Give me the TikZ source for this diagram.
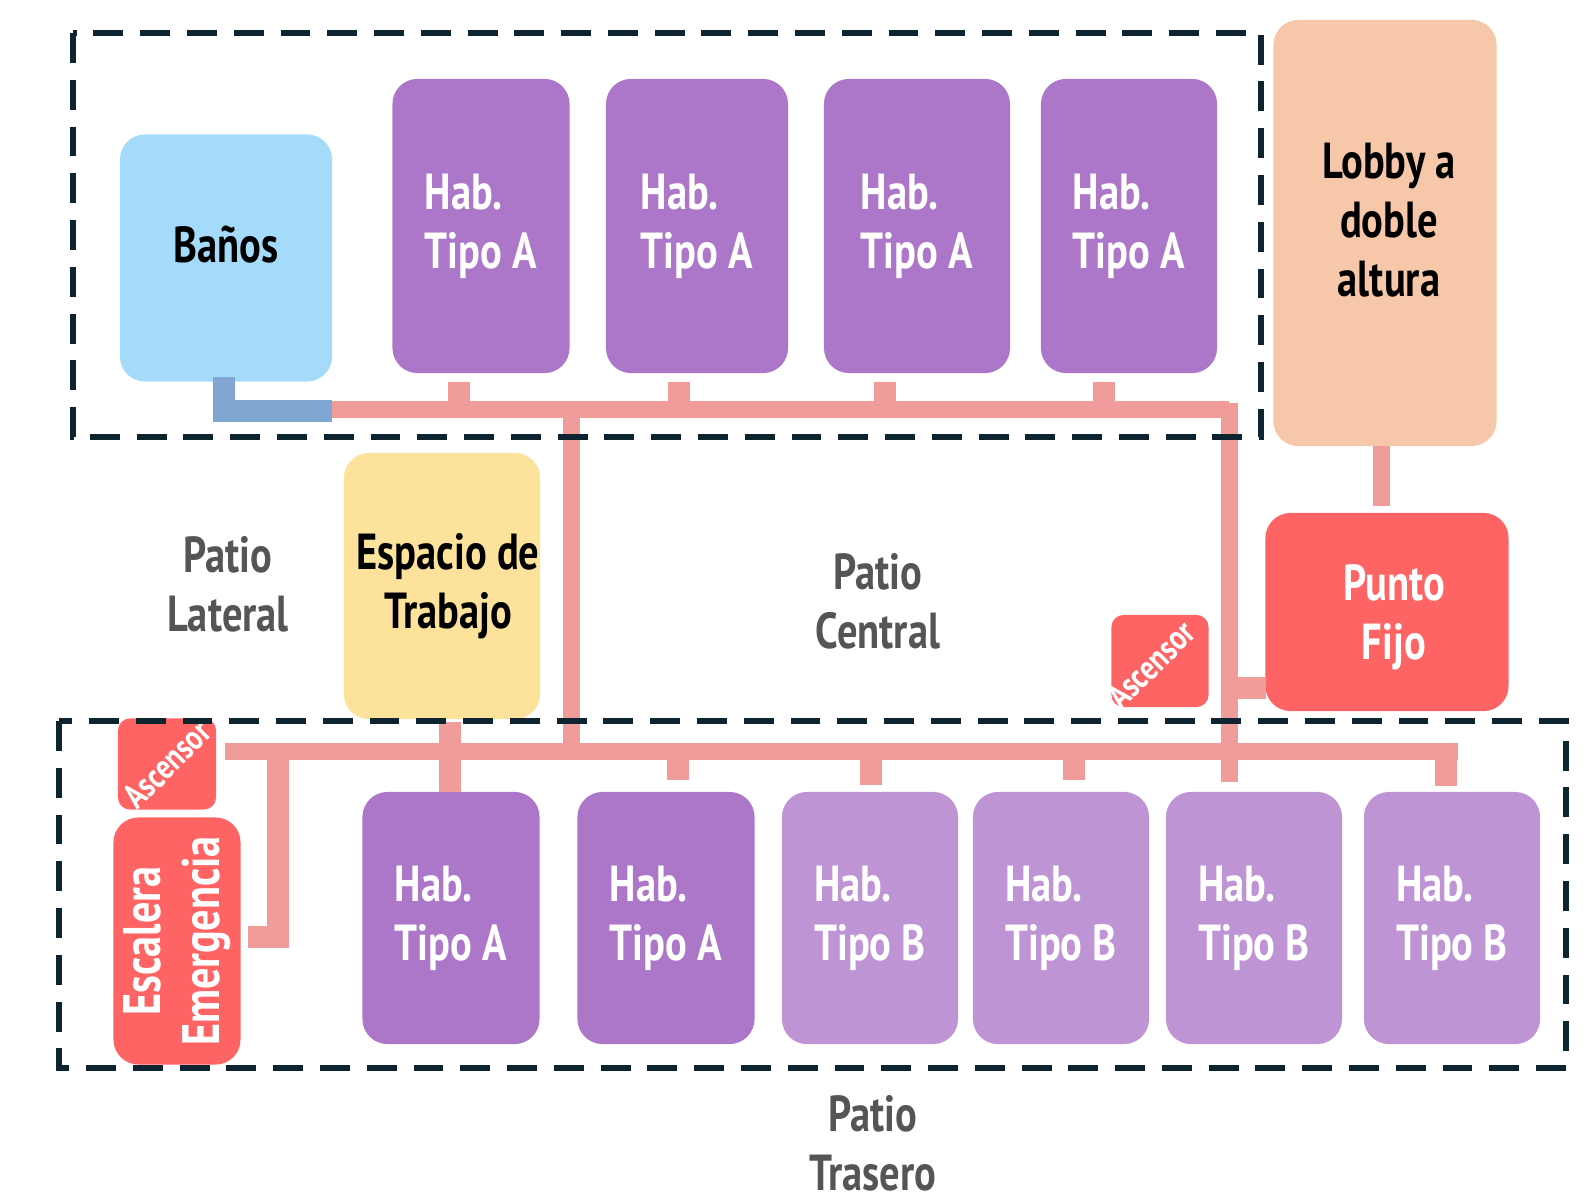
\documentclass[tikz,border=0pt]{standalone}
\usepackage{fontspec}
\setmainfont{PT Sans}[FakeStretch=0.8]

\definecolor{moradoA}{HTML}{AD77C9}
\definecolor{moradoB}{HTML}{BF94D5}
\definecolor{celeste}{HTML}{A4DBFA}
\definecolor{durazno}{HTML}{F6C7A8}
\definecolor{rojo}{HTML}{FE6463}
\definecolor{amarillo}{HTML}{FCE29A}
\definecolor{rosa}{HTML}{EF9C9B}
\definecolor{azulL}{HTML}{80A6D2}
\definecolor{marino}{HTML}{0E2431}
\definecolor{gris}{HTML}{555555}

\newcommand{\rotulo}{\fontsize{14.4}{16.7}\selectfont\bfseries}

\tikzset{
  cuarto/.style={rounded corners=0.25cm, inner sep=0pt, font=\rotulo, text=white, align=left},
  habA/.style={cuarto, fill=moradoA},
  habB/.style={cuarto, fill=moradoB},
  fijo/.style={cuarto, fill=rojo, align=center},
  ascensor/.style={fill=rojo, rounded corners=0.12cm, minimum width=0.97cm, minimum height=0.92cm},
  rotulo/.style={font=\rotulo, align=center},
  patio/.style={font=\rotulo, text=gris, align=center},
  corredor/.style={draw=rosa, line width=0.17cm},
  ramal/.style={draw=rosa, line width=0.22cm},
  limite/.style={draw=marino, line width=1.7pt, dash pattern=on 8.5pt off 4.8pt}
}

\begin{document}
\begin{tikzpicture}[x=0.01cm,y=-0.01cm]
  \useasboundingbox (0,0) rectangle (1588,1203);

  % patios
  \node[patio] (lateral) at (228,584) {Patio\\Lateral};
  \node[patio] (central) at (878,601) {Patio\\Central};
  \node[patio] (trasero) at (873,1143) {Patio\\Trasero};

  % bloque superior
  \node[cuarto, fill=celeste, minimum width=2.12cm, minimum height=2.47cm,
    label={[rotulo, text=black, yshift=0.13cm]center:Baños}] (banos) at (226,258) {};
  \foreach \x/\w/\n in {481/1.77/1,697/1.82/2,917/1.86/3,1129/1.76/4}
    \node[habA, minimum width=\w cm, minimum height=2.94cm] (sup\n) at (\x,226) {Hab.\\Tipo A};
  \node[cuarto, fill=durazno, minimum width=2.23cm, minimum height=4.26cm,
    label={[rotulo, text=black, yshift=0.13cm, xshift=0.04cm]center:Lobby a\\doble\\altura}] (lobby) at (1385,233) {};
  \node[fijo, minimum width=2.43cm, minimum height=1.98cm,
    label={[rotulo, text=white, yshift=-0.05cm, xshift=0.07cm]center:Punto\\Fijo}] (punto) at (1387,612) {};
  \node[ascensor, label={[rotate=45, text=white, font=\fontsize{10}{10}\selectfont\bfseries, xshift=-0.09cm, yshift=0.04cm]center:Ascensor}] (ascR) at (1160,661) {};
  \node[cuarto, fill=amarillo, minimum width=1.96cm, minimum height=2.66cm,
    label={[rotulo, text=black, xshift=0.06cm]center:Espacio de\\Trabajo}] (espacio) at (442,586) {};

  % bloque inferior
  \node[ascensor, minimum width=0.98cm, minimum height=0.91cm, label={[rotate=45, text=white, font=\fontsize{10}{10}\selectfont\bfseries]center:Ascensor}] (ascL) at (167,764) {};
  \node[fijo, rotate=90, minimum width=2.47cm, minimum height=1.27cm, font=\fontsize{15}{16.7}\selectfont\bfseries] (escalera) at (177,941) {Escalera\\Emergencia};
  \foreach \x/\n in {451/1,666/2}
    \node[habA, minimum width=1.77cm, minimum height=2.52cm] (inf\n) at (\x,918) {Hab.\\Tipo A};
  \foreach \x/\n in {870/3,1061/4,1254/5,1452/6}
    \node[habB, minimum width=1.76cm, minimum height=2.52cm] (inf\n) at (\x,918) {Hab.\\Tipo B};

  % circulaciones
  \draw[draw=azulL, line width=0.22cm] (224,377) |- (332,411);
  \draw[corredor] (332,409) -- (1229,409);
  \draw[corredor] (1229,403) -- (1229,782);
  \draw[corredor] (571,409) -- (571,751);
  \draw[corredor] (225,751) -- (1458,751);
  \draw[corredor] (1381,446) -- (1381,506);
  \draw[ramal] (278,751) |- (248,937);
  \foreach \x in {459,679,885,1104}
    \draw[ramal] (\x,382) -- (\x,409);
  \draw[ramal] (450,722) -- (450,792);
  \foreach \x/\a/\b in {678/751/780,871/744/785,1074/744/780,1446/751/786}
    \draw[ramal] (\x,\a) -- (\x,\b);
  \draw[ramal] (1238,688) -- (1266,688);

  % limites
  \draw[limite] (73,33) rectangle (1261,437);
  \draw[limite] (59,721) rectangle (1566,1068);
\end{tikzpicture}
\end{document}
